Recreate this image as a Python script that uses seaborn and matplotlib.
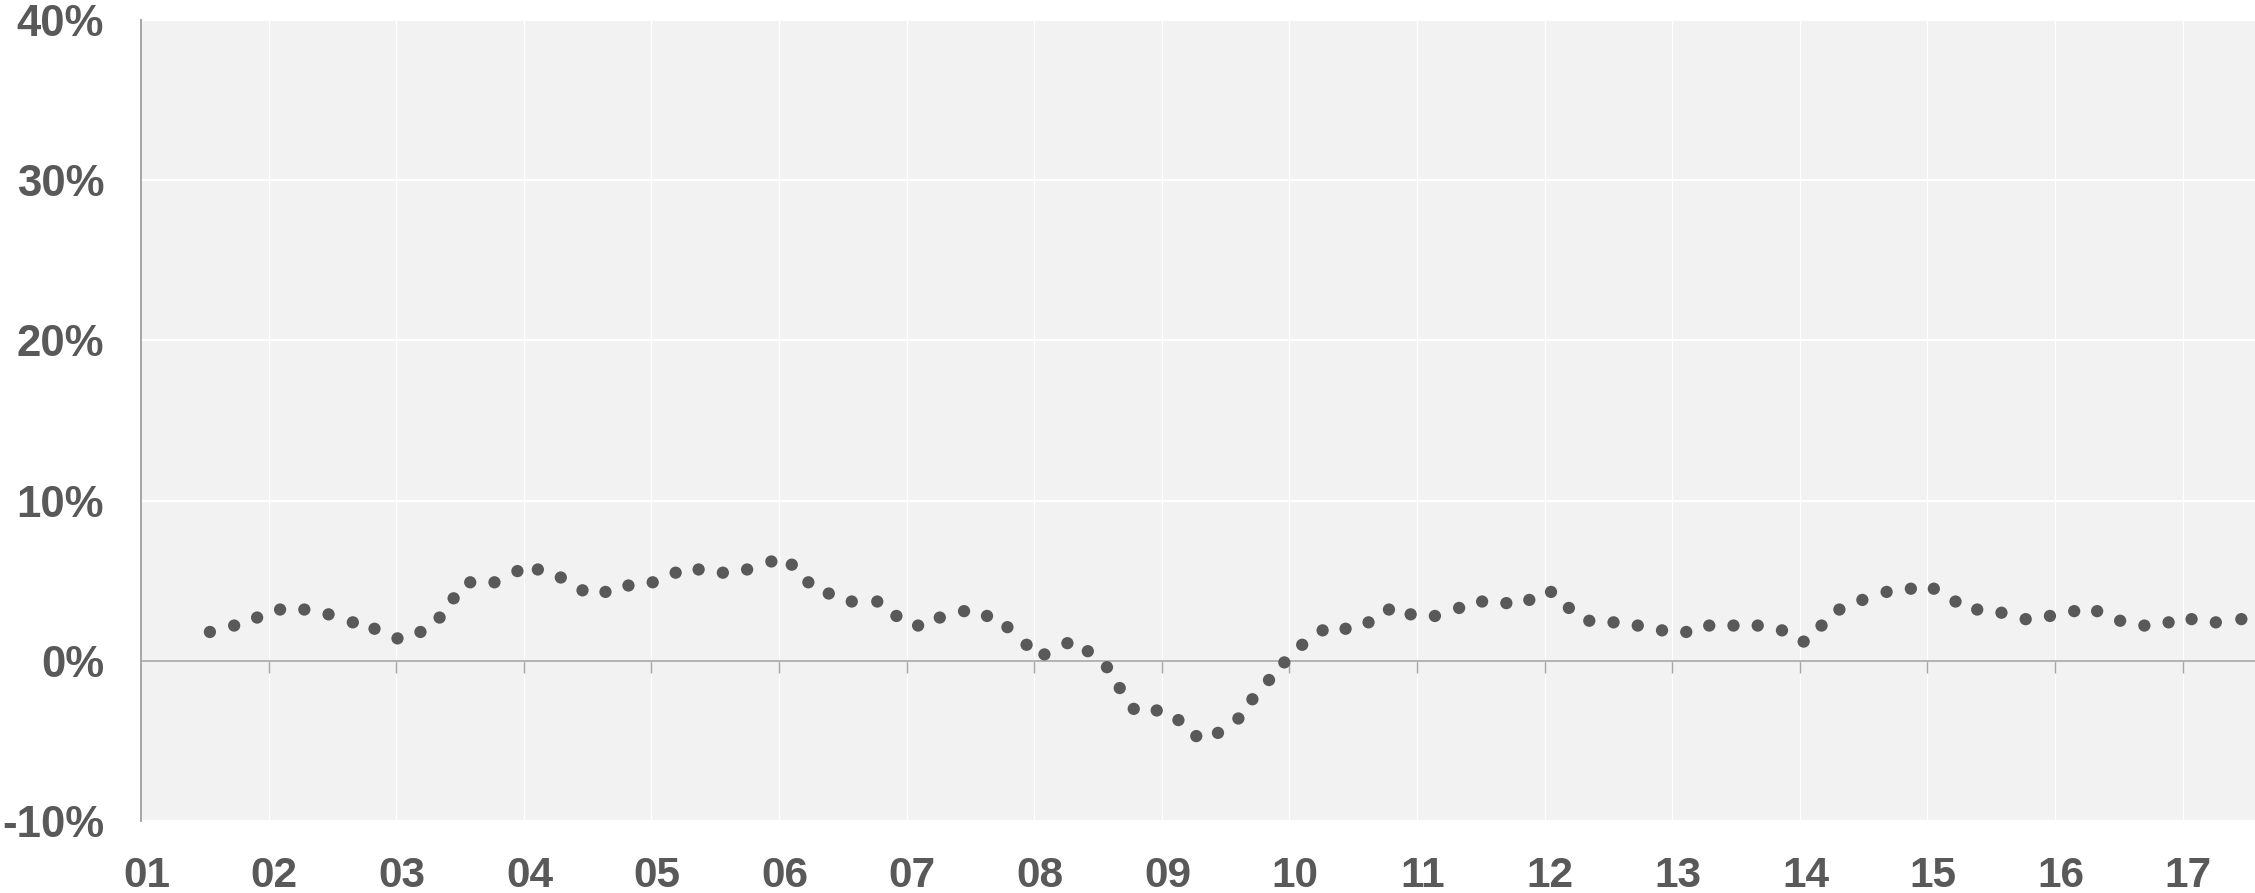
import matplotlib
matplotlib.use("Agg")
import matplotlib.pyplot as plt
import seaborn as sns
import pandas as pd

# --- DATA ---
# decimal year of each observation
years = [
    2001.54, 2001.73, 2001.91, 2002.09, 2002.28, 2002.47, 2002.66, 2002.83,
    2003.01, 2003.19, 2003.34, 2003.45, 2003.58, 2003.77, 2003.95, 2004.11,
    2004.29, 2004.46, 2004.64, 2004.82, 2005.01, 2005.19, 2005.37, 2005.56,
    2005.75, 2005.94, 2006.10, 2006.23, 2006.39, 2006.57, 2006.77, 2006.92,
    2007.09, 2007.26, 2007.45, 2007.63, 2007.79, 2007.94, 2008.08, 2008.26,
    2008.42, 2008.57, 2008.67, 2008.78, 2008.96, 2009.13, 2009.27, 2009.44,
    2009.60, 2009.71, 2009.84, 2009.96, 2010.10, 2010.26, 2010.44, 2010.62,
    2010.78, 2010.95, 2011.14, 2011.33, 2011.51, 2011.70, 2011.88, 2012.05,
    2012.19, 2012.35, 2012.54, 2012.73, 2012.92, 2013.11, 2013.29, 2013.48,
    2013.67, 2013.86, 2014.03, 2014.17, 2014.31, 2014.49, 2014.68, 2014.87,
    2015.05, 2015.22, 2015.39, 2015.58, 2015.77, 2015.96, 2016.15, 2016.33,
    2016.51, 2016.70, 2016.89, 2017.07, 2017.26, 2017.46,
]
# growth rate, percent
growth = [
    1.8, 2.2, 2.7, 3.2, 3.2, 2.9, 2.4, 2.0,
    1.4, 1.8, 2.7, 3.9, 4.9, 4.9, 5.6, 5.7,
    5.2, 4.4, 4.3, 4.7, 4.9, 5.5, 5.7, 5.5,
    5.7, 6.2, 6.0, 4.9, 4.2, 3.7, 3.7, 2.8,
    2.2, 2.7, 3.1, 2.8, 2.1, 1.0, 0.4, 1.1,
    0.6, -0.4, -1.7, -3.0, -3.1, -3.7, -4.7, -4.5,
    -3.6, -2.4, -1.2, -0.1, 1.0, 1.9, 2.0, 2.4,
    3.2, 2.9, 2.8, 3.3, 3.7, 3.6, 3.8, 4.3,
    3.3, 2.5, 2.4, 2.2, 1.9, 1.8, 2.2, 2.2,
    2.2, 1.9, 1.2, 2.2, 3.2, 3.8, 4.3, 4.5,
    4.5, 3.7, 3.2, 3.0, 2.6, 2.8, 3.1, 3.1,
    2.5, 2.2, 2.4, 2.6, 2.4, 2.6,
]
label_years = list(range(2001, 2018))
label_text = [f"{y % 100:02d}" for y in label_years]
tick_years = list(range(2002, 2018))
y_ticks = [-10, 0, 10, 20, 30, 40]
y_text = ["-10%", "0%", "10%", "20%", "30%", "40%"]

# --- STYLE ---
sns.set_style("white", {"axes.facecolor": "#f2f2f2"})
plt.rcParams["font.family"] = ["Liberation Sans", "DejaVu Sans"]
plt.rcParams["font.weight"] = "bold"

text_grey = "#595959"
line_grey = "#a6a6a6"

W, H = 2255, 893
fig = plt.figure(figsize=(W / 100, H / 100), dpi=100)
ax = fig.add_axes([141 / W, 72 / H, 1 - 141 / W, 801 / H])

df = pd.DataFrame({"year": years, "growth": growth})
sns.scatterplot(data=df, x="year", y="growth", s=78, color=text_grey,
                edgecolor="none", linewidth=0, ax=ax, zorder=3, legend=False)

ax.set_xlim(2001, 2017.567)
ax.set_ylim(-10, 40)
ax.set_xlabel("")
ax.set_ylabel("")

# grid
ax.set_axisbelow(True)
ax.set_yticks(y_ticks, y_text)
ax.set_xticks(tick_years)
ax.yaxis.grid(True, color="white", linewidth=1.6)
ax.xaxis.grid(True, color="white", linewidth=0.9)

# spines: left axis + zero line acting as x axis
for side in ["top", "right"]:
    ax.spines[side].set_visible(False)
ax.spines["left"].set_color(line_grey)
ax.spines["left"].set_linewidth(1.4)
ax.spines["bottom"].set_position(("data", 0))
ax.spines["bottom"].set_color(line_grey)
ax.spines["bottom"].set_linewidth(1.2)

ax.tick_params(axis="x", bottom=True, direction="out", length=8.6,
               width=1.0, color=line_grey, labelbottom=False)
ax.tick_params(axis="y", left=False, length=0, pad=26.5, labelsize=31.5,
               labelcolor=text_grey)

# year labels along the bottom of the plot area (nudged slightly right)
shift = 0.045
sec = ax.secondary_xaxis("bottom", functions=(lambda x: x - shift,
                                              lambda x: x + shift))
sec.set_xticks(label_years, label_text)
sec.tick_params(bottom=False, length=0, pad=25, labelsize=30.5,
                labelcolor=text_grey)
sec.spines["bottom"].set_visible(False)

fig.savefig("out.png", dpi=100)
